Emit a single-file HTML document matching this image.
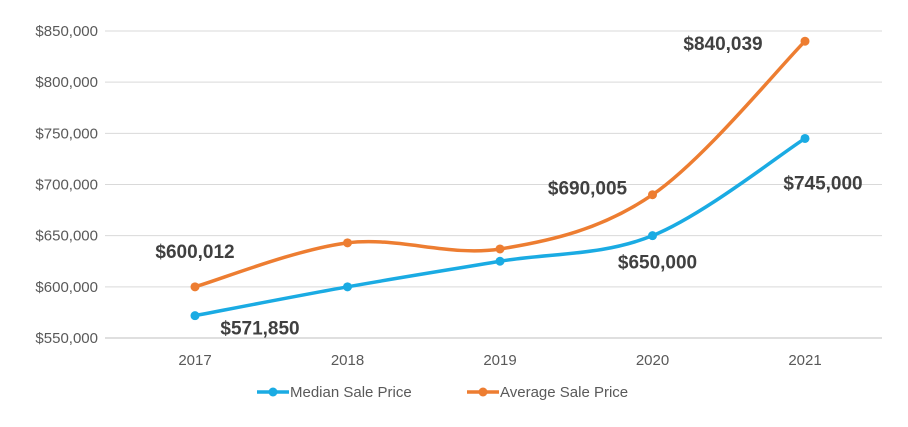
<!DOCTYPE html>
<html><head><meta charset="utf-8">
<style>
body{margin:0;background:#fff;}
svg text{font-family:"Liberation Sans",sans-serif;}
</style></head>
<body>
<svg id="chart" width="908" height="422" viewBox="0 0 908 422">
<g id="grid"></g>
<g id="yaxis"></g>
<g id="xaxis"></g>
<g id="series"></g>
<g id="labels"></g>
<g id="legend"></g>
</svg>
<script>
const categories = ["2017","2018","2019","2020","2021"];
const medianValues = [571850, 600000, 625000, 650000, 745000];
const averageValues = [600012, 643000, 637000, 690005, 840039];
const yTicks = [550000, 600000, 650000, 700000, 750000, 800000, 850000];
const medianLabels = ["$571,850", null, null, "$650,000", "$745,000"];
const averageLabels = ["$600,012", null, null, "$690,005", "$840,039"];

const NS = "http://www.w3.org/2000/svg";
const x0 = 195, xStep = 152.5;
function xPos(i){ return x0 + i * xStep; }
function yPos(v){ return 338 - (v - 550000) / 300000 * 307; }
function mk(tag, attrs, parent, txt){
  const el = document.createElementNS(NS, tag);
  for (const k in attrs) el.setAttribute(k, attrs[k]);
  if (txt != null) el.textContent = txt;
  parent.appendChild(el);
  return el;
}
const grid = document.getElementById('grid'), yaxis = document.getElementById('yaxis'),
  xaxis = document.getElementById('xaxis'), series = document.getElementById('series'),
  labels = document.getElementById('labels'), legend = document.getElementById('legend');

yTicks.forEach(t => {
  const l = mk('line', {x1:105, x2:882, y1:yPos(t), y2:yPos(t), stroke: t===550000?'#bfbfbf':'#d9d9d9', 'stroke-width':1}, grid);
  
  
  const tx = mk('text', {x:98, y:yPos(t)+5, 'text-anchor':'end', 'font-size':15, fill:'#595959'}, yaxis, '$' + t.toLocaleString('en-US'));
  
  
});
categories.forEach((c, i) => {
  const tx = mk('text', {x:xPos(i), y:365, 'text-anchor':'middle', 'font-size':15, fill:'#595959'}, xaxis, c);
  
  
});

function smoothPath(vals){
  const p = vals.map((v,i)=>[xPos(i), yPos(v)]);
  let d = `M${p[0][0]},${p[0][1]}`;
  const t = 1/6;
  for (let i=0;i<p.length-1;i++){
    const a = p[i-1]||p[i], b=p[i], c=p[i+1], e=p[i+2]||c;
    d += ` C${b[0]+(c[0]-a[0])*t},${b[1]+(c[1]-a[1])*t} ${c[0]-(e[0]-b[0])*t},${c[1]-(e[1]-b[1])*t} ${c[0]},${c[1]}`;
  }
  return d;
}
function drawSeries(vals, color, name){
  const path = mk('path', {d:smoothPath(vals), fill:'none', stroke:color, 'stroke-width':3.5}, series);
  
  
  vals.forEach((v,i)=>{
    const c = mk('circle', {cx:xPos(i), cy:yPos(v), r:4.5, fill:color}, series);
    
    
  });
}
drawSeries(averageValues, '#ed7d31', 'average');
drawSeries(medianValues, '#1aabe3', 'median');

const medOff = [[65,12],null,null,[5,26],[18,44]];
const avgOff = [[0,-36],null,null,[-65,-7],[-82,2]];
function drawLabels(vals, labs, offs, name){
  vals.forEach((v,i)=>{
    if (!labs[i]) return;
    const tx = mk('text', {x:xPos(i)+offs[i][0], y:yPos(v)+offs[i][1]+7, 'text-anchor':'middle', 'font-size':19, 'font-weight':'bold', fill:'#404040'}, labels, labs[i]);
    
    
  });
}
drawLabels(medianValues, medianLabels, medOff, 'median');
drawLabels(averageValues, averageLabels, avgOff, 'average');

[['Median Sale Price','#1aabe3',257,'legend-median'],['Average Sale Price','#ed7d31',467,'legend-average']].forEach(([t,col,x,n])=>{
  const g = mk('g', {}, legend);
  
  
  mk('line', {x1:x, x2:x+32, y1:392, y2:392, stroke:col, 'stroke-width':3.5}, g);
  mk('circle', {cx:x+16, cy:392, r:4.5, fill:col}, g);
  mk('text', {x:x+33, y:397, 'font-size':15, fill:'#595959'}, g, t);
});
</script>
</body></html>
